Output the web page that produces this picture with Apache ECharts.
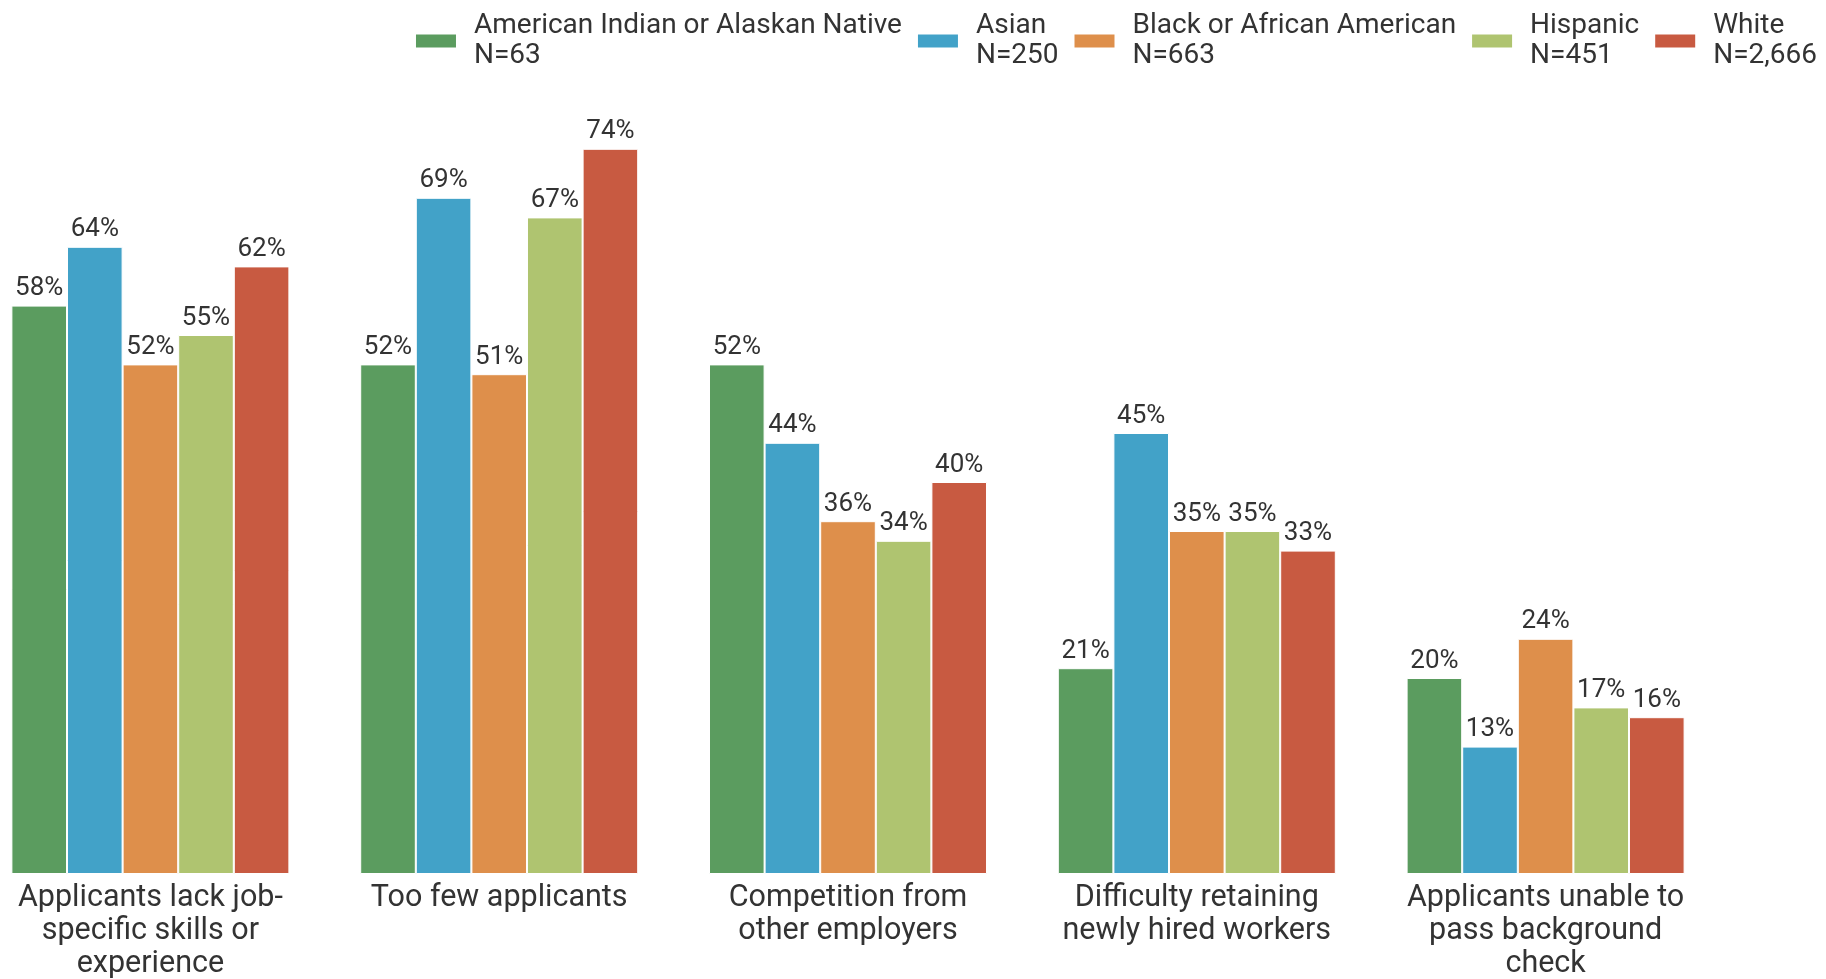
<!DOCTYPE html>
<html><head><meta charset="utf-8">
<script src="https://cdn.jsdelivr.net/npm/echarts@6/dist/echarts.min.js"></script>
<style>html,body{margin:0;padding:0;background:#fff}#c{width:1826px;height:979px}</style>
</head><body><div id="c"></div>
<script>
const categories = [
  "Applicants lack job-\nspecific skills or\nexperience",
  "Too few applicants",
  "Competition from\nother employers",
  "Difficulty retaining\nnewly hired workers",
  "Applicants unable to\npass background\ncheck"
];
const seriesNames = [
  "American Indian or Alaskan Native\nN=63",
  "Asian\nN=250",
  "Black or African American\nN=663",
  "Hispanic\nN=451",
  "White\nN=2,666"
];
const americanIndian = [58, 52, 52, 21, 20];
const asian = [64, 69, 44, 45, 13];
const black = [52, 51, 36, 35, 24];
const hispanic = [55, 67, 34, 35, 17];
const white = [62, 74, 40, 33, 16];
const colors = ["#5b9c5f", "#42a2c8", "#de8f4b", "#afc470", "#c85a41"];

const values = [americanIndian, asian, black, hispanic, white];
const font = "Roboto";
const chart = echarts.init(document.getElementById('c'), null, {renderer: 'canvas'});
chart.setOption({
  animation: false,
  color: colors,
  textStyle: {fontFamily: font, color: '#333'},
  legend: {
    right: 4, top: 6,
    itemWidth: 42, itemHeight: 15, itemGap: 14,
    icon: 'rect',
    textStyle: {fontFamily: font, fontSize: 28, color: '#333', lineHeight: 30, padding: [0, 0, 0, 12]},
    data: seriesNames
  },
  grid: {left: -24, width: 1744, top: 90, bottom: 105, containLabel: false, outerBoundsMode: 'none'},
  xAxis: {
    type: 'category', data: categories,
    axisLine: {show: false}, axisTick: {show: false},
    axisLabel: {fontFamily: font, fontSize: 30.5, color: '#333', lineHeight: 33, margin: 8, interval: 0}
  },
  yAxis: {type: 'value', min: 0, max: 80, show: false, splitLine: {show: false}},
  series: seriesNames.map((n, i) => ({
    name: n, type: 'bar', data: values[i],
    barGap: 0, barCategoryGap: '20.3%',
    itemStyle: {borderColor: '#fff', borderWidth: 1},
    label: {show: true, position: 'top', distance: 4, formatter: '{c}%', fontFamily: font, fontSize: 26, color: '#333'}
  }))
});
</script></body></html>
